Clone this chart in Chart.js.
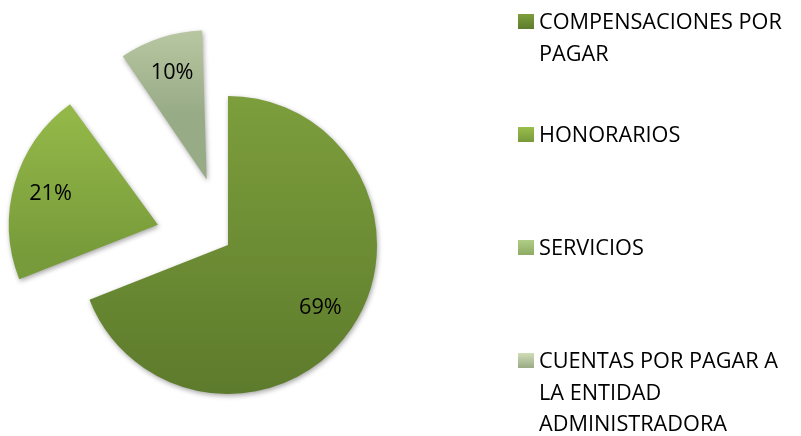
<!DOCTYPE html>
<html>
<head>
<meta charset="utf-8">
<script src="https://cdn.jsdelivr.net/npm/chart.js@4.4.1/dist/chart.umd.min.js"></script>
<style>
  html, body { margin: 0; padding: 0; background: #fff; }
</style>
</head>
<body>
<canvas id="chart" width="801" height="436"></canvas>
<script>
const labels = ['COMPENSACIONES POR PAGAR', 'HONORARIOS', 'SERVICIOS', 'CUENTAS POR PAGAR A LA ENTIDAD ADMINISTRADORA'];
const values = [69, 21, 0, 10];

// styling
const explode = [0, 73, 0, 69]; // px the slice is pulled out
const topColors = ['#7d9e3c', '#99be4b', '#b0cd86', '#d0ddb5'];
const bottomColors = ['#5d7b2c', '#779a3a', '#8dab62', '#98ab87'];
const FONT = '21.7px "Open Sans"';
const R = 149;

const total = values.reduce((a, b) => a + b, 0);

function sliceFill(ctx) {
	const chart = ctx.chart;
	const area = chart.chartArea;
	const i = ctx.dataIndex;
	if (!area) return topColors[i];
	let a0 = -Math.PI / 2;
	for (let k = 0; k < i; k++) a0 += values[k] / total * 2 * Math.PI;
	const a1 = a0 + values[i] / total * 2 * Math.PI;
	const cy = (area.top + area.bottom) / 2;
	const oy = cy + Math.sin((a0 + a1) / 2) * explode[i];
	const ys = [oy, oy + Math.sin(a0) * R, oy + Math.sin(a1) * R];
	[-Math.PI / 2, Math.PI / 2, 3 * Math.PI / 2].forEach(a => {
		if (a > a0 && a < a1) ys.push(oy + Math.sin(a) * R);
	});
	const y0 = Math.min(...ys), y1 = Math.max(...ys);
	const g = chart.ctx.createLinearGradient(0, y0, 0, y1 > y0 ? y1 : y0 + 1);
	g.addColorStop(0, topColors[i]);
	g.addColorStop(1, bottomColors[i]);
	return g;
}

// Chart.js moves an arc by offset/4 and also grows small arcs; keep every radius at R
const shadow = {
	id: 'shadow',
	beforeDatasetsDraw(chart) {
		chart.getDatasetMeta(0).data.forEach((arc, i) => {
			const fix = 1 - Math.sin(Math.min(Math.PI, arc.circumference || 0));
			arc.outerRadius = R - explode[i] * fix;
		});
		const c = chart.ctx;
		c.save();
		c.shadowColor = 'rgba(0,0,0,0.35)';
		c.shadowBlur = 5;
		c.shadowOffsetX = 1;
		c.shadowOffsetY = 2;
	},
	afterDatasetsDraw(chart) {
		chart.ctx.restore();
	}
};

const sliceLabels = {
	id: 'sliceLabels',
	afterDatasetsDraw(chart) {
		const c = chart.ctx;
		const meta = chart.getDatasetMeta(0);
		c.save();
		c.font = FONT;
		c.fillStyle = '#000';
		c.textAlign = 'center';
		c.textBaseline = 'middle';
		meta.data.forEach((arc, i) => {
			if (!values[i]) return;
			const mid = (arc.startAngle + arc.endAngle) / 2;
			const d = explode[i] + R * 0.75;
			c.fillText(Math.round(values[i] / total * 100) + '%', arc.x + Math.cos(mid) * d, arc.y + Math.sin(mid) * d);
		});
		c.restore();
	}
};

function wrap(c, text, maxW) {
	const words = text.split(' ');
	const lines = [];
	let line = '';
	words.forEach(w => {
		const test = line ? line + ' ' + w : w;
		if (c.measureText(test).width > maxW && line) {
			lines.push(line);
			line = w;
		} else {
			line = test;
		}
	});
	lines.push(line);
	return lines;
}

const sideLegend = {
	id: 'sideLegend',
	afterDraw(chart) {
		const c = chart.ctx;
		c.save();
		c.font = FONT;
		c.textBaseline = 'alphabetic';
		labels.forEach((lab, i) => {
			const base = 29 + i * 113;
			const g = c.createLinearGradient(0, base - 15, 0, base);
			g.addColorStop(0, topColors[i]);
			g.addColorStop(1, bottomColors[i]);
			c.fillStyle = g;
			c.fillRect(518, base - 15, 16, 15);
			c.fillStyle = '#000';
			wrap(c, lab, 260).forEach((ln, j) => c.fillText(ln, 539, base + j * 31.5));
		});
		c.restore();
	}
};

new Chart(document.getElementById('chart').getContext('2d'), {
	type: 'pie',
	data: {
		labels: labels,
		datasets: [{
			data: values,
			backgroundColor: sliceFill,
			borderWidth: 0,
			offset: explode.map(v => v * 4),
			radius: R
		}]
	},
	options: {
		responsive: false,
		animation: false,
		layout: { padding: { left: 0, right: 345, top: 54, bottom: 0 } },
		plugins: {
			legend: { display: false },
			tooltip: { enabled: false }
		}
	},
	plugins: [shadow, sliceLabels, sideLegend]
});
</script>
</body>
</html>
